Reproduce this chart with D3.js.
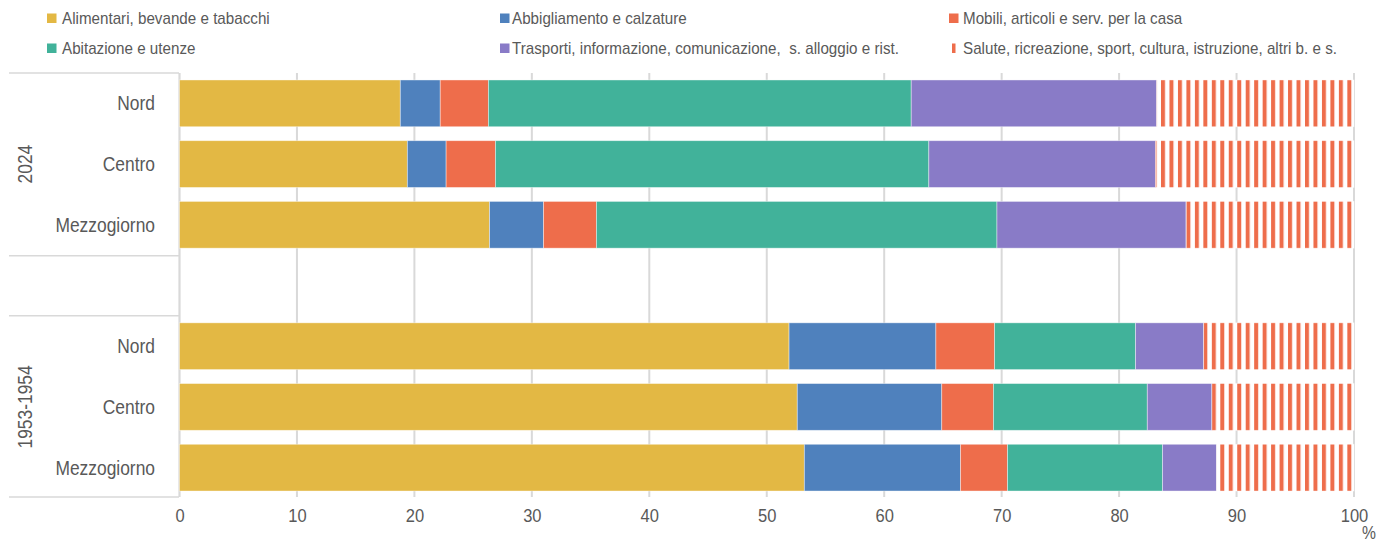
<!DOCTYPE html>
<html>
<head>
<meta charset="utf-8">
<script src="https://cdn.jsdelivr.net/npm/d3@7"></script>
<style>
  body { margin: 0; background: #fff; }
  text { font-family: "Liberation Sans", Arial, sans-serif; fill: #595959; white-space: pre; }
</style>
</head>
<body>
<div class="chart"></div>
<script>
// categories of spending (legend order = stack order)
var categories = [
  "Alimentari, bevande e tabacchi",
  "Abbigliamento e calzature",
  "Mobili, articoli e serv. per la casa",
  "Abitazione e utenze",
  "Trasporti, informazione, comunicazione,  s. alloggio e rist.",
  "Salute, ricreazione, sport, cultura, istruzione, altri b. e s."
];
var colors = ["#e3b844", "#4f81bd", "#ee6d4b", "#41b29a", "#897bc7", "#ee6d4b"];
var regions = ["Nord", "Centro", "Mezzogiorno"];
var periods = ["2024", "1953-1954"];

// shares (%)
var nord2024 = [18.8, 3.4, 4.1, 36.0, 20.9, 16.8];
var centro2024 = [19.4, 3.3, 4.2, 36.9, 19.3, 16.9];
var mezzo2024 = [26.4, 4.6, 4.5, 34.1, 16.1, 14.3];
var nord1953 = [51.9, 12.5, 5.0, 12.0, 5.8, 12.8];
var centro1953 = [52.6, 12.3, 4.4, 13.1, 5.5, 12.1];
var mezzo1953 = [53.2, 13.3, 4.0, 13.2, 4.6, 11.7];

var xTicks = [0, 10, 20, 30, 40, 50, 60, 70, 80, 90, 100];

var svgWidth = 1391, svgHeight = 542;
var narrow = 0.87; // the original uses a condensed face
var svg = d3.select(".chart").append("svg")
  .attr("width", svgWidth)
  .attr("height", svgHeight);

// hatch pattern for the last category
var defs = svg.append("defs");
var pat = defs.append("pattern")
  .attr("id", "hatch")
  .attr("patternUnits", "userSpaceOnUse")
  .attr("x", 1161)
  .attr("width", 8.47)
  .attr("height", 10);
pat.append("rect").attr("width", 8.47).attr("height", 10).attr("fill", "#fff");
pat.append("rect").attr("x", 0).attr("width", 4).attr("height", 10).attr("fill", "#ee6d4b");

// rows: 2024 group, blank slot, 1953-1954 group
var rows = [
  {period: "2024", region: "Nord", vals: nord2024},
  {period: "2024", region: "Centro", vals: centro2024},
  {period: "2024", region: "Mezzogiorno", vals: mezzo2024},
  {period: "gap", region: "", vals: null},
  {period: "1953-1954", region: "Nord", vals: nord1953},
  {period: "1953-1954", region: "Centro", vals: centro1953},
  {period: "1953-1954", region: "Mezzogiorno", vals: mezzo1953}
];
rows.forEach(function(r, i) { r.key = i; });

var x = d3.scaleLinear().domain([0, 100]).range([179.5, 1354]);
var y = d3.scaleBand()
  .domain(rows.map(function(r) { return r.key; }))
  .range([73, 498])
  .paddingInner(0.23)
  .paddingOuter(0.115);

// gridlines
svg.append("g")
  .selectAll("line")
  .data(xTicks)
  .enter().append("line")
  .attr("x1", function(d) { return x(d); })
  .attr("x2", function(d) { return x(d); })
  .attr("y1", 73)
  .attr("y2", 497)
  .attr("stroke", "#d9d9d9")
  .attr("stroke-width", 2);

// x axis labels
var xAxis = d3.axisBottom(x).tickValues(xTicks).tickSize(0).tickPadding(12);
var xg = svg.append("g")
  .attr("transform", "translate(0,497)")
  .call(xAxis);
xg.select(".domain").remove();
xg.selectAll("text")
  .style("font-size", "19px")
  .attr("fill", "#595959")
  .attr("transform", "scale(" + narrow + ",1)");

svg.append("text")
  .attr("transform", "translate(1362,539) scale(" + narrow + ",1)")
  .style("font-size", "18px")
  .text("%");

// left category table lines
var sepY = [73, y(2) + y.bandwidth() + y.step() * y.paddingInner() / 2 + 0.5, y(4) - y.step() * y.paddingInner() / 2, 497];
svg.append("g")
  .selectAll("line")
  .data(sepY)
  .enter().append("line")
  .attr("x1", 9)
  .attr("x2", 179)
  .attr("y1", function(d) { return d; })
  .attr("y2", function(d) { return d; })
  .attr("stroke", "#d9d9d9")
  .attr("stroke-width", 1.5);
svg.append("line")
  .attr("x1", 179.5).attr("x2", 179.5)
  .attr("y1", 73).attr("y2", 497)
  .attr("stroke", "#d9d9d9")
  .attr("stroke-width", 1.5);

// stacked bars
var barRows = rows.filter(function(r) { return r.vals; });
barRows.forEach(function(r) {
  var acc = 0;
  r.segs = r.vals.map(function(v, i) {
    var s = {start: acc, end: acc + v, i: i};
    acc += v;
    return s;
  });
});

var rowG = svg.append("g").selectAll("g")
  .data(barRows)
  .enter().append("g");

rowG.selectAll("rect")
  .data(function(r) { return r.segs.map(function(s) { s.key = r.key; return s; }); })
  .enter().append("rect")
  .attr("x", function(d) { return x(d.start); })
  .attr("width", function(d) { return x(d.end) - x(d.start); })
  .attr("y", function(d) { return y(d.key); })
  .attr("height", y.bandwidth())
  .attr("fill", function(d) { return d.i === 5 ? "url(#hatch)" : colors[d.i]; })
  .attr("stroke", "rgba(255,255,255,0.5)")
  .attr("stroke-width", 0.8);

// region labels
svg.append("g").selectAll("text")
  .data(barRows)
  .enter().append("text")
  .attr("transform", function(r) {
    return "translate(155," + (y(r.key) + y.bandwidth() / 2) + ") scale(" + narrow + ",1)";
  })
  .attr("dy", "0.35em")
  .attr("text-anchor", "end")
  .style("font-size", "20px")
  .text(function(r) { return r.region; });

// period labels (rotated)
periods.forEach(function(p) {
  var rs = barRows.filter(function(r) { return r.period === p; });
  var top = y(rs[0].key), bot = y(rs[rs.length - 1].key) + y.bandwidth();
  var cy = (top + bot) / 2;
  svg.append("text")
    .attr("transform", "translate(32," + cy + ") rotate(-90) scale(" + narrow + ",1)")
    .attr("text-anchor", "middle")
    .style("font-size", "20px")
    .text(p);
});

// legend
var legSq = [47, 500, 949];   // marker x per column
var legTx = [62, 512, 963];   // text x per column
var legY = [18, 48];
var leg = svg.append("g").selectAll("g")
  .data(categories)
  .enter().append("g")
  .attr("transform", function(d, i) {
    var row = i < 3 ? 0 : 1;
    return "translate(0," + legY[row] + ")";
  });
leg.append("rect")
  .attr("x", function(d, i) { return legSq[i % 3] + (i === 5 ? 3 : 0); })
  .attr("y", -4.5)
  .attr("width", function(d, i) { return i === 5 ? 3.5 : 9.5; })
  .attr("height", 9.5)
  .attr("fill", function(d, i) { return colors[i]; });
leg.append("text")
  .attr("transform", function(d, i) { return "translate(" + legTx[i % 3] + ",0) scale(0.95,1)"; })
  .attr("dy", "0.35em")
  .style("font-size", "16px")
  .text(function(d) { return d; });
</script>
</body>
</html>
